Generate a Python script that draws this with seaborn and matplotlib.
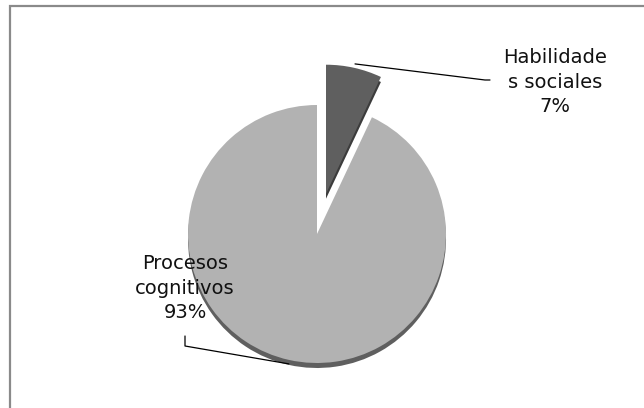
import numpy as np
import matplotlib
matplotlib.use('Agg')
import matplotlib.pyplot as plt
import seaborn as sns
from matplotlib.patches import Rectangle

sns.set_theme(style='white')
plt.rcParams['font.family'] = ['DejaVu Sans']

# data
categories = ['Habilidade\ns sociales', 'Procesos\ncognitivos']
shares = [7, 93]
face_colors = ['#5f5f5f', '#b2b2b2']
side_colors = ['#3c3c3c', '#5f5f5f']
explode_frac = [0.32, 0.0]

W, H = 644, 408
fig = plt.figure(figsize=(W / 100, H / 100), dpi=100)
ax = fig.add_axes([0, 0, 1, 1])

# chart frame (right and bottom edges fall outside the picture)
ax.add_patch(Rectangle((10, -20), 700, H - 6 + 20, fill=False,
                       edgecolor='#8a8a8a', linewidth=1.6))

center = (317, 174)
radius = 129
# matplotlib's explode is in data units, not a fraction of the radius
explode = [e * radius for e in explode_frac]

# side of the 3d pie: same pie, shifted down a little
ax.pie(shares, colors=side_colors, startangle=90, counterclock=False,
       explode=explode, radius=radius, center=(center[0], center[1] - 5),
       frame=True, wedgeprops=dict(linewidth=0))
wedges, _ = ax.pie(shares, colors=face_colors, startangle=90, counterclock=False,
                   explode=explode, radius=radius, center=center,
                   frame=True, wedgeprops=dict(linewidth=0))
ax.set_xlim(0, W)
ax.set_ylim(0, H)
ax.set_aspect('equal')
ax.axis('off')

label_pos = [(555, 326), (185, 120)]
label_txt = [f'{c}\n{s}%' for c, s in zip(categories, shares)]
for txt, (tx, ty) in zip(label_txt, label_pos):
    ax.text(tx, ty, txt, ha='center', va='center', fontsize=14,
            color='#111111', linespacing=1.35)

# leader lines from the middle of each arc to its label
def arc_mid(w, extra=0.0, drop=0.0):
    ang = np.deg2rad((w.theta1 + w.theta2) / 2)
    cx, cy = w.center
    r = w.r + extra
    return cx + r * np.cos(ang), cy + r * np.sin(ang) - drop

x0, y0 = arc_mid(wedges[0], extra=4)
ax.plot([x0, 485, 490], [y0, 328, 328], color='black', lw=0.9)
x1, y1 = arc_mid(wedges[1], drop=4)
ax.plot([x1, 185, 185], [y1, 62, 72], color='black', lw=0.9)

fig.savefig('out.png', dpi=100, facecolor='white')
